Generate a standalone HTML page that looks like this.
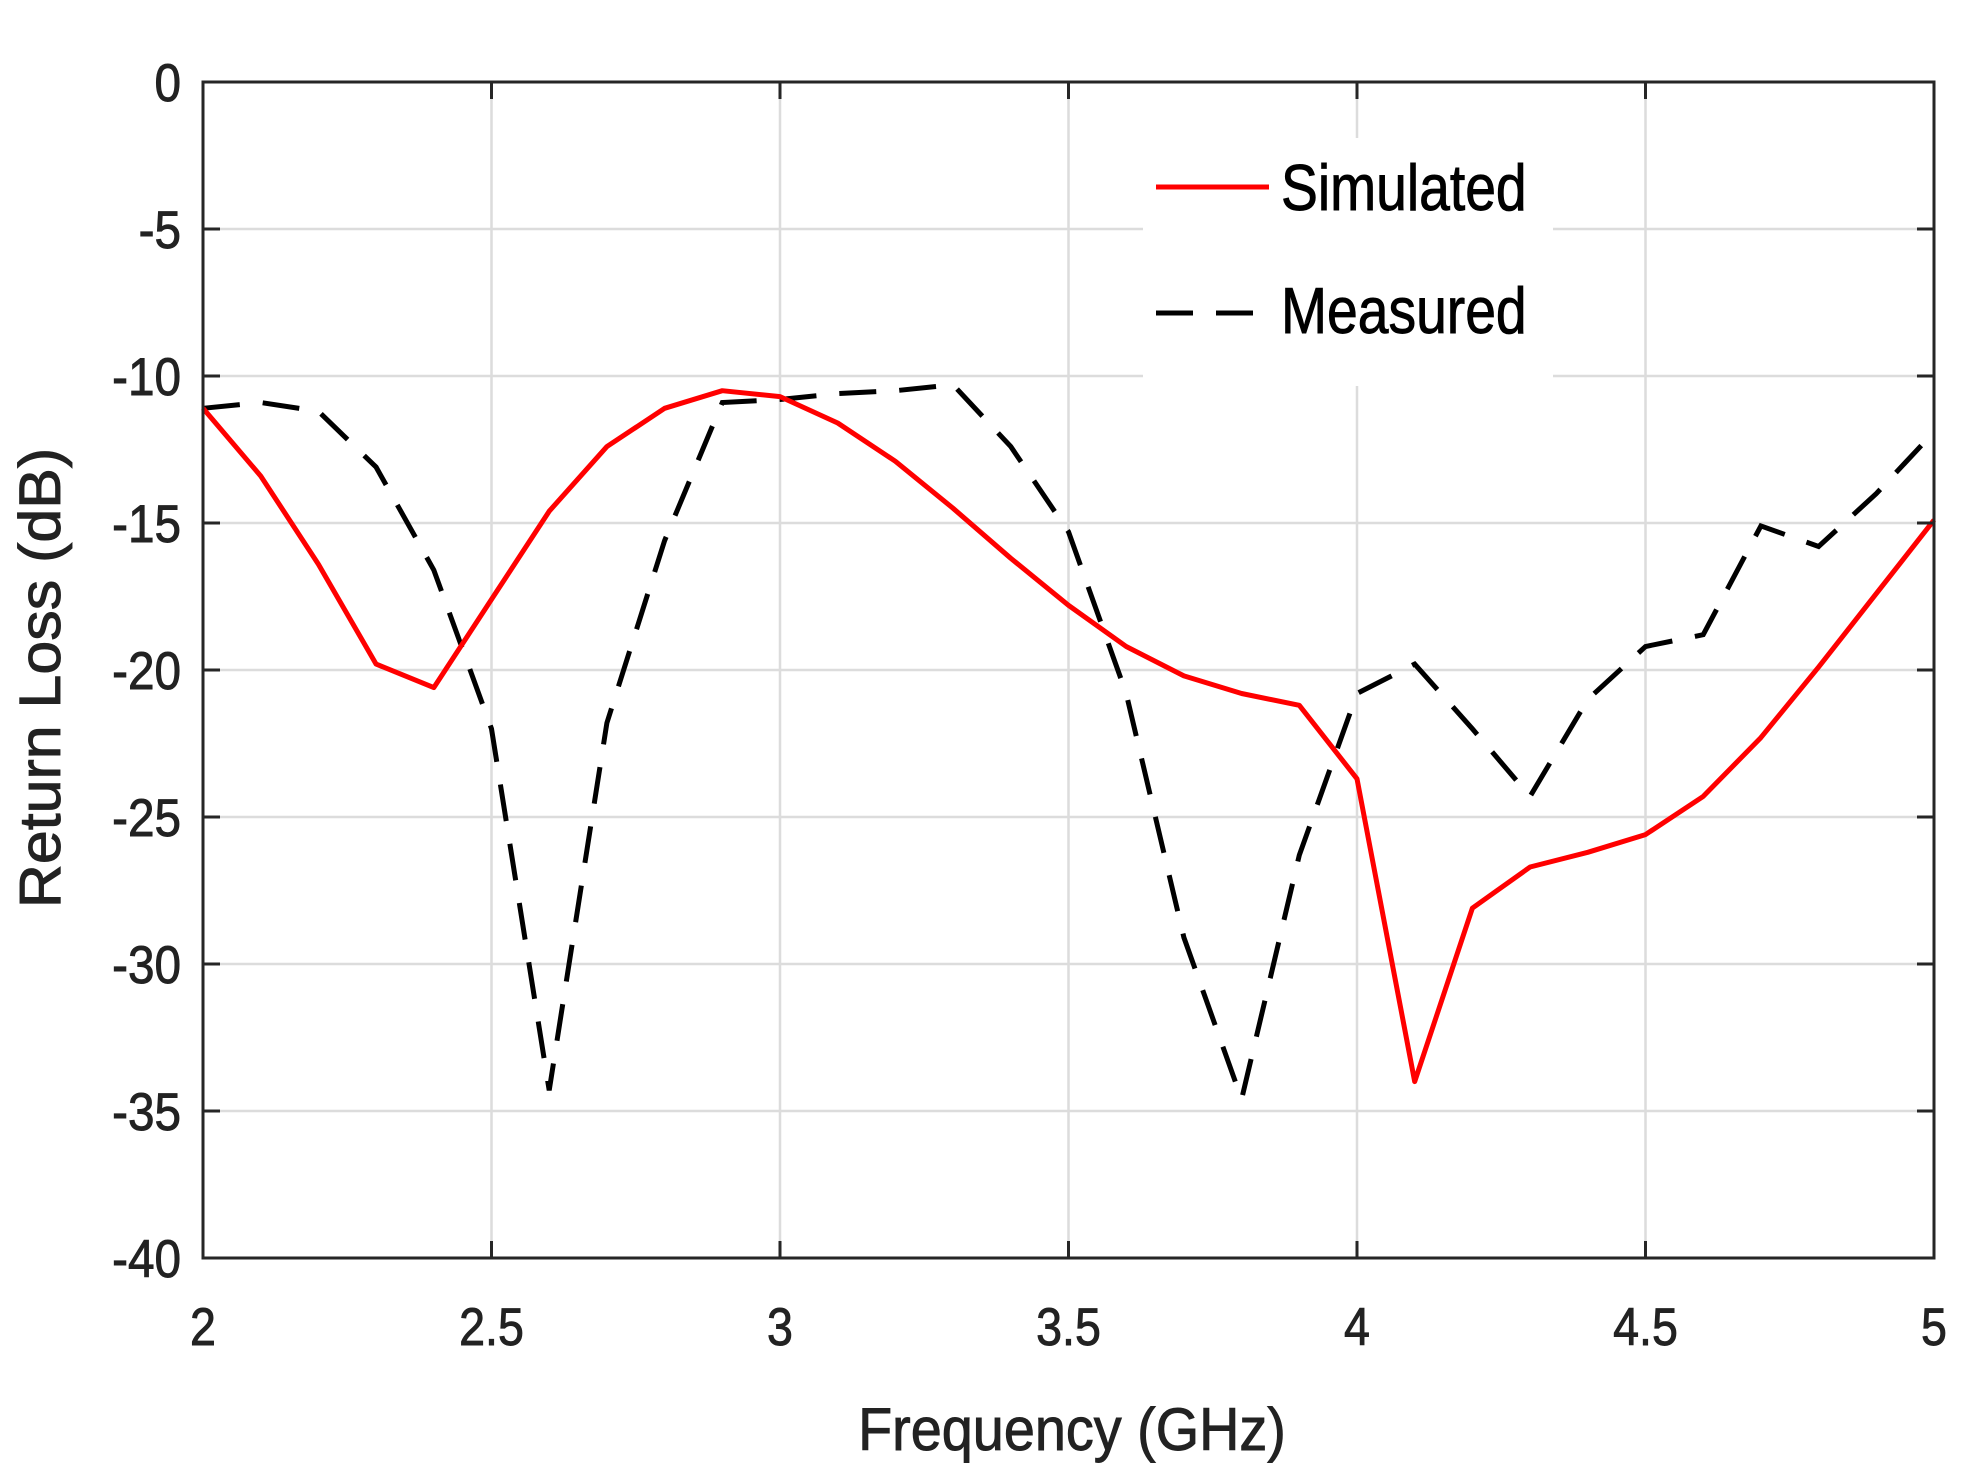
<!DOCTYPE html>
<html><head><meta charset="utf-8"><style>
body{margin:0;background:#fff}
svg{display:block}
text{font-family:"Liberation Sans",Arial,sans-serif;fill:#222;stroke:#222;stroke-width:0.9}
</style></head><body>
<svg id="chart" width="1963" height="1472" xmlns="http://www.w3.org/2000/svg">
<g id="grid"></g>
<g id="series"></g>
<rect x="203" y="82" width="1731" height="1176" fill="none" stroke="#262626" stroke-width="3"/>
<g id="ticks"></g>
<g>
<rect x="1143" y="138" width="410" height="248" fill="#fff"/>
<line x1="1156" y1="187" x2="1269" y2="187" stroke="#ff0000" stroke-width="5"/>
<text x="1281" y="210" font-size="65" transform="translate(1281,0) scale(0.85,1) translate(-1281,0)" style="fill:#000;stroke:#000">Simulated</text>
<line x1="1156" y1="313" x2="1269" y2="313" stroke="#000" stroke-width="5" stroke-dasharray="37,23"/>
<text x="1281" y="333" font-size="65" transform="translate(1281,0) scale(0.85,1) translate(-1281,0)" style="fill:#000;stroke:#000">Measured</text>
</g>
<text x="1072" y="1450" font-size="60" text-anchor="middle" transform="translate(1072,0) scale(0.93,1) translate(-1072,0)">Frequency (GHz)</text>
<text x="0" y="0" font-size="58" text-anchor="middle" transform="translate(60,678) rotate(-90) scale(1.05,1)">Return Loss (dB)</text>
</svg>
<script>
const freqs = [2,2.1,2.2,2.3,2.4,2.5,2.6,2.7,2.8,2.9,3,3.1,3.2,3.3,3.4,3.5,3.6,3.7,3.8,3.9,4,4.1,4.2,4.3,4.4,4.5,4.6,4.7,4.8,4.9,5];
const simulated = [-11.1,-13.4,-16.4,-19.8,-20.6,-17.6,-14.6,-12.4,-11.1,-10.5,-10.7,-11.6,-12.9,-14.5,-16.2,-17.8,-19.2,-20.2,-20.8,-21.2,-23.7,-34.0,-28.1,-26.7,-26.2,-25.6,-24.3,-22.3,-19.9,-17.4,-14.9];
const measured = [-11.1,-10.9,-11.2,-13.1,-16.6,-22.0,-34.3,-21.8,-15.6,-10.9,-10.8,-10.6,-10.5,-10.3,-12.4,-15.3,-20.8,-29.1,-34.6,-26.3,-20.8,-19.8,-22.0,-24.3,-21.0,-19.2,-18.8,-15.1,-15.8,-14.0,-11.9];
const xTicks = [2,2.5,3,3.5,4,4.5,5];
const xTickLabels = ["2","2.5","3","3.5","4","4.5","5"];
const yTicks = [0,-5,-10,-15,-20,-25,-30,-35,-40];
const yTickLabels = ["0","-5","-10","-15","-20","-25","-30","-35","-40"];

const X0=203,X1=1934,Y0=82,Y1=1258;
const sx=v=>X0+(v-2)/3*(X1-X0);
const sy=v=>Y0+(0-v)/40*(Y1-Y0);
const NS="http://www.w3.org/2000/svg";
const grid=document.getElementById('grid'),ticks=document.getElementById('ticks'),series=document.getElementById('series');
function mk(tag,attrs,parent){const e=document.createElementNS(NS,tag);for(const k in attrs)e.setAttribute(k,attrs[k]);parent.appendChild(e);return e;}

xTicks.forEach((v,i)=>{
  const x=sx(v);
  if(i>0&&i<xTicks.length-1){
    const g=mk('line',{x1:x,y1:Y0,x2:x,y2:Y1,stroke:'#dcdcdc','stroke-width':2.5},grid);
    
    
  }
  const t1=mk('line',{x1:x,y1:Y1,x2:x,y2:Y1-17,stroke:'#262626','stroke-width':3},ticks);
  
  
  const t2=mk('line',{x1:x,y1:Y0,x2:x,y2:Y0+17,stroke:'#262626','stroke-width':3},ticks);
  
  
  const lb=mk('text',{x:x,y:1345,'font-size':53,'text-anchor':'middle',transform:`translate(${x},0) scale(0.88,1) translate(${-x},0)`},ticks);
  lb.textContent=xTickLabels[i];
  
  
});
yTicks.forEach((v,i)=>{
  const y=sy(v);
  if(i>0&&i<yTicks.length-1){
    const g=mk('line',{x1:X0,y1:y,x2:X1,y2:y,stroke:'#dcdcdc','stroke-width':2.5},grid);
    
    
  }
  const t1=mk('line',{x1:X0,y1:y,x2:X0+17,y2:y,stroke:'#262626','stroke-width':3},ticks);
  
  
  const t2=mk('line',{x1:X1,y1:y,x2:X1-17,y2:y,stroke:'#262626','stroke-width':3},ticks);
  
  
  const lb=mk('text',{x:181,y:y+19,'font-size':53,'text-anchor':'end',transform:`translate(181,0) scale(0.9,1) translate(-181,0)`},ticks);
  lb.textContent=yTickLabels[i];
  
  
});
const pts=arr=>arr.map((v,i)=>sx(freqs[i]).toFixed(1)+','+sy(v).toFixed(1)).join(' ');
const m=mk('polyline',{points:pts(measured),fill:'none',stroke:'#000','stroke-width':5,'stroke-dasharray':'37,23'},series);


const s=mk('polyline',{points:pts(simulated),fill:'none',stroke:'#ff0000','stroke-width':5,'stroke-linejoin':'round'},series);


</script>
</body></html>
